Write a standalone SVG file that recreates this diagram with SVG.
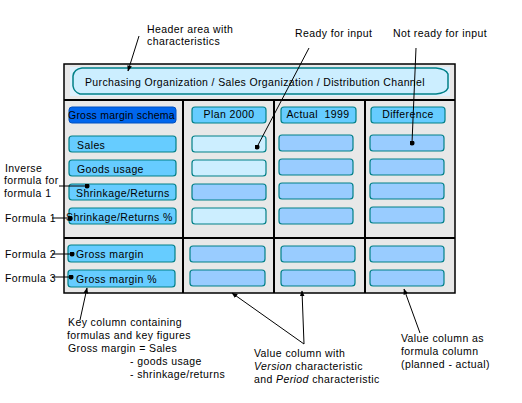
<svg xmlns="http://www.w3.org/2000/svg" width="522" height="403" viewBox="0 0 522 403">
<defs>
<marker id="arr" viewBox="0 0 10 10" refX="9" refY="5" markerWidth="6" markerHeight="6" orient="auto" markerUnits="userSpaceOnUse"><path d="M0,1 L10,5 L0,9 z" fill="#000"/></marker>
<marker id="dot" viewBox="0 0 6 6" refX="3" refY="3" markerWidth="5" markerHeight="5" markerUnits="userSpaceOnUse"><circle cx="3" cy="3" r="3" fill="#000"/></marker>
</defs>
<style>
text{font-family:"Liberation Sans",Arial,sans-serif;font-size:10.5px;letter-spacing:0.4px;fill:#000}
.key{fill:#66CCFF;stroke:#008088;stroke-width:1.2}
.dark{fill:#0066EE;stroke:#0050C0;stroke-width:1}
.light{fill:#CCEEFF;stroke:#008088;stroke-width:1.2}
.mid{fill:#99CCFF;stroke:#008088;stroke-width:1.2}
.div{stroke:#000;stroke-width:2;fill:none}
.con{stroke:#000;stroke-width:1;fill:none}
</style>
<rect width="522" height="403" fill="#fff"/>
<g id="frame">
<rect x="64" y="64" width="391" height="229" fill="#E8E8E8" stroke="#000" stroke-width="1.5"/>
<line class="div" x1="64" y1="100" x2="455" y2="100" stroke-width="1.5"/>
<line class="div" x1="64" y1="238" x2="455" y2="238" stroke-width="1.5"/>
<line class="div" x1="183" y1="100" x2="183" y2="293"/>
<line class="div" x1="274" y1="100" x2="274" y2="293"/>
<line class="div" x1="365" y1="100" x2="365" y2="293"/>
</g>
<g id="header">
<rect x="70" y="67" width="380" height="29" fill="#DDF2FF"/>
<path d="M82,68 L436,68 Q446,69 448,74 L448,88 Q446,93 436,94 L80,94 Q74,92 73,86 L73,76 Q74,69 82,68 Z" fill="#CCEEFF" stroke="#008088" stroke-width="1.5"/>
<text x="255" y="86" text-anchor="middle" textLength="340">Purchasing Organization / Sales Organization / Distribution Channel</text>
</g>
<g id="key-column">
<rect class="dark" x="69" y="107" width="107" height="16" rx="3"/>
<text x="68" y="119" textLength="107">Gross margin schema</text>
<rect class="key" x="69" y="136" width="107" height="16" rx="3"/>
<text x="77" y="149">Sales</text>
<rect class="key" x="69" y="160" width="107" height="16" rx="3"/>
<text x="77" y="173">Goods usage</text>
<rect class="key" x="69" y="184" width="107" height="16" rx="3"/>
<text x="76" y="197">Shrinkage/Returns</text>
<rect class="key" x="69" y="208" width="107" height="16" rx="3"/>
<text x="66" y="221">Shrinkage/Returns %</text>
<rect class="key" x="68" y="245" width="107" height="17" rx="3"/>
<text x="76" y="258">Gross margin</text>
<rect class="key" x="68" y="270" width="107" height="17" rx="3"/>
<text x="76" y="283">Gross margin %</text>
</g>
<g id="plan-column">
<rect class="key" x="192" y="107" width="74" height="16" rx="3"/>
<text x="229" y="118" text-anchor="middle">Plan 2000</text>
<rect class="light" x="192" y="136" width="74" height="16" rx="3"/>
<rect class="light" x="192" y="160" width="74" height="16" rx="3"/>
<rect class="mid" x="192" y="184" width="74" height="16" rx="3"/>
<rect class="light" x="192" y="208" width="74" height="16" rx="3"/>
<rect class="mid" x="190" y="246" width="75" height="16" rx="3"/>
<rect class="mid" x="190" y="270" width="75" height="16" rx="3"/>
</g>
<g id="actual-column">
<rect class="key" x="281" y="107" width="75" height="16" rx="3"/>
<text x="318" y="118" text-anchor="middle" xml:space="preserve">Actual  1999</text>
<rect class="mid" x="279" y="135" width="74" height="16" rx="3"/>
<rect class="mid" x="279" y="159" width="74" height="16" rx="3"/>
<rect class="mid" x="279" y="183" width="74" height="16" rx="3"/>
<rect class="mid" x="279" y="208" width="74" height="16" rx="3"/>
<rect class="mid" x="281" y="246" width="74" height="16" rx="3"/>
<rect class="mid" x="281" y="270" width="74" height="16" rx="3"/>
</g>
<g id="difference-column">
<rect class="key" x="371" y="107" width="74" height="16" rx="3"/>
<text x="408" y="118" text-anchor="middle">Difference</text>
<rect class="mid" x="370" y="135" width="74" height="16" rx="3"/>
<rect class="mid" x="370" y="159" width="74" height="16" rx="3"/>
<rect class="mid" x="370" y="183" width="74" height="16" rx="3"/>
<rect class="mid" x="370" y="207" width="74" height="16" rx="3"/>
<rect class="mid" x="370" y="246" width="74" height="16" rx="3"/>
<rect class="mid" x="370" y="270" width="74" height="16" rx="3"/>
</g>
<g id="labels">
<text x="147" y="33">Header area with</text>
<text x="147" y="45">characteristics</text>
<text x="295" y="37">Ready for input</text>
<text x="393" y="37">Not ready for input</text>
<text x="5" y="172">Inverse</text>
<text x="4" y="184">formula for</text>
<text x="4" y="197">formula 1</text>
<text x="5" y="222">Formula 1</text>
<text x="5" y="258">Formula 2</text>
<text x="5" y="282">Formula 3</text>
<text x="68" y="326">Key column containing</text>
<text x="67" y="339">formulas and key figures</text>
<text x="68" y="352">Gross margin = Sales</text>
<text x="130" y="365">- goods usage</text>
<text x="130" y="378">- shrinkage/returns</text>
<text x="254" y="357">Value column with</text>
<text x="254" y="370"><tspan font-style="italic">Version</tspan> characteristic</text>
<text x="254" y="383">and <tspan font-style="italic">Period</tspan> characteristic</text>
<text x="401" y="342">Value column as</text>
<text x="401" y="355">formula column</text>
<text x="401" y="368">(planned - actual)</text>
</g>
<g id="connectors">
<line class="con" x1="139" y1="36" x2="128" y2="71" marker-end="url(#arr)"/>
<line class="con" x1="309" y1="48" x2="257" y2="147" marker-end="url(#dot)"/>
<line class="con" x1="416" y1="48" x2="412" y2="143" marker-end="url(#dot)"/>
<line class="con" x1="59" y1="186" x2="87" y2="186" marker-end="url(#dot)"/>
<line class="con" x1="52" y1="218" x2="70" y2="218" marker-end="url(#dot)"/>
<line class="con" x1="52" y1="254" x2="72" y2="254" marker-end="url(#dot)"/>
<line class="con" x1="52" y1="277" x2="71" y2="277" marker-end="url(#dot)"/>
<line class="con" x1="80" y1="320" x2="87" y2="288" marker-end="url(#arr)"/>
<line class="con" x1="304" y1="344" x2="232" y2="293" marker-end="url(#arr)"/>
<line class="con" x1="304" y1="344" x2="302" y2="291" marker-end="url(#arr)"/>
<line class="con" x1="420" y1="333" x2="404" y2="289" marker-end="url(#arr)"/>
</g>
</svg>
